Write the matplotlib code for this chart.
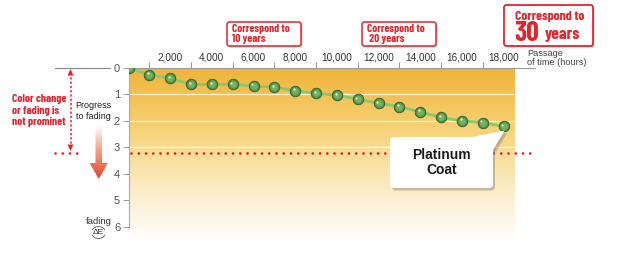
import matplotlib
matplotlib.use("Agg")
import matplotlib.pyplot as plt
import matplotlib.transforms as mtransforms
from matplotlib.patches import FancyBboxPatch, Polygon, Arc
from matplotlib.colors import LinearSegmentedColormap
import numpy as np

# ---- data ----
hours = [0, 1000, 2000, 3000, 4000, 5000, 6000, 7000, 8000, 9000,
         10000, 11000, 12000, 13000, 14000, 15000, 16000, 17000, 18000]
delta_e = [0.0, 0.26, 0.38, 0.62, 0.62, 0.62, 0.68, 0.72, 0.86, 0.96,
           1.03, 1.18, 1.33, 1.46, 1.66, 1.87, 2.0, 2.06, 2.21]
x_tick_values = [2000, 4000, 6000, 8000, 10000, 12000, 14000, 16000, 18000]
x_tick_labels = ["2,000", "4,000", "6,000", "8,000", "10,000", "12,000",
                 "14,000", "16,000", "18,000"]
y_tick_values = [0, 1, 2, 3, 4, 5, 6]
threshold = 3.2

COND = ["Barlow Condensed", "DejaVu Sans"]
SANS = ["Liberation Sans", "DejaVu Sans"]
RED = "#E2252C"

fig = plt.figure(figsize=(6.3, 2.59), dpi=100)
W, H = 630, 259

# main axes: x 0 at px 128.5, 18500 at px 514 ; y 0 at px 68, 6.5 at px 240
ax = fig.add_axes([128.5 / W, (H - 240) / H, (514 - 128.5) / W, (240 - 68) / H])

# background gradient
cmap_bg = LinearSegmentedColormap.from_list(
    "bg", [(0.0, "#F0B43A"), (0.3, "#F6CD6C"), (0.5, "#F9DE98"),
           (0.75, "#FCEFCF"), (1.0, "#FFFFFF")])
grad = np.linspace(0, 1, 256).reshape(-1, 1)
ax.imshow(grad, cmap=cmap_bg, aspect="auto", extent=[0, 18500, 6.5, 0],
          origin="upper", zorder=0)
ax.set_xlim(0, 18500)
ax.set_ylim(6.5, 0)
for yv in [1, 2, 3]:
    ax.axhline(yv, color="white", lw=0.9, alpha=0.8, zorder=1)

# line + sphere markers
ax.plot(hours, delta_e, color="#86C96F", lw=2.0, zorder=3, solid_capstyle="round")
ax.plot(hours, delta_e, ls="none", marker="o", ms=7.6, mfc="#55934A",
        mec="#2F5A28", mew=0.6, zorder=4)
ax.plot(hours, delta_e, ls="none", marker="o", ms=4.8, mfc="#74B262",
        mec="none", zorder=5)
hl = mtransforms.offset_copy(ax.transData, fig=fig, x=-0.9, y=1.1, units="points")
ax.plot(hours, delta_e, ls="none", marker="o", ms=1.6, mfc="#E8F5DE",
        mec="none", zorder=6, transform=hl)

# spines & ticks
for s in ["right", "bottom"]:
    ax.spines[s].set_visible(False)
ax.spines["top"].set_color("#999999")
ax.spines["top"].set_linewidth(0.8)
ax.spines["left"].set_color("#AAAAAA")
ax.spines["left"].set_linewidth(0.8)
ax.spines["left"].set_bounds(0, 6)
ax.xaxis.set_ticks_position("top")
ax.set_xticks(x_tick_values)
ax.set_xticklabels(x_tick_labels, fontsize=7.2, color="#333333", family=SANS)
ax.tick_params(axis="x", which="major", length=0, pad=4)
ax.set_xticks([1000, 3000, 5000, 7000, 9000, 11000, 13000, 15000, 17000], minor=True)
ax.tick_params(axis="x", which="minor", length=4, width=0.7, color="#999999")
ax.set_yticks(y_tick_values)
ax.set_yticklabels([str(v) for v in y_tick_values], fontsize=8, color="#555555",
                   family=SANS)
ax.tick_params(axis="y", length=4, width=0.7, color="#999999", pad=2)

# ---- overlay in pixel coordinates ----
ov = fig.add_axes([0, 0, 1, 1], zorder=10)
ov.set_xlim(0, W)
ov.set_ylim(H, 0)
ov.axis("off")
ov.patch.set_alpha(0)

blend = mtransforms.blended_transform_factory(ov.transData, ax.transData)

# top spine extension and left reference line
ov.plot([514, 535], [0, 0], color="#999999", lw=0.8, transform=blend, clip_on=False)
ov.plot([55, 110], [0, 0], color="#888888", lw=0.8, transform=blend, clip_on=False)

# red dotted threshold line
dot_style = (0, (0.01, 2.6))
ov.plot([131, 534], [threshold, threshold], color=RED, lw=2.0, ls=dot_style,
        dash_capstyle="round", transform=blend, zorder=2)
ov.plot([55, 84], [threshold, threshold], color=RED, lw=2.0, ls=dot_style,
        dash_capstyle="round", transform=blend)

# red dashed double arrow
ov.plot([70.5, 70.5], [73, 147], color=RED, lw=1.1, ls=(0, (1.5, 1.3)))
ov.add_patch(Polygon([[67.5, 75.5], [73.5, 75.5], [70.5, 69]], closed=True,
                     fc=RED, ec="none"))
ov.add_patch(Polygon([[67.5, 144.5], [73.5, 144.5], [70.5, 151]], closed=True,
                     fc=RED, ec="none"))

ov.text(12, 110.5, "Color change\nor fading is\nnot prominet", color=RED,
        fontsize=8.3, fontweight="bold", family=COND, va="center", ha="left",
        linespacing=1.2)
ov.text(93.5, 111, "Progress\nto fading", color="#222222", fontsize=6.5,
        family=SANS, va="center", ha="center", linespacing=1.3)

# big gradient arrow
arrow_pts = [[95.5, 125], [102, 125], [102, 163], [108, 163], [98.75, 179],
             [89.5, 163], [95.5, 163]]
arrow_poly = Polygon(arrow_pts, closed=True, fc="none", ec="none")
ov.add_patch(arrow_poly)
cmap_ar = LinearSegmentedColormap.from_list(
    "ar", [(0, "#FFFFFF"), (0.45, "#F3A58A"), (1.0, "#E5452A")])
im = ov.imshow(grad, cmap=cmap_ar, aspect="auto", extent=[89, 109, 179, 125],
               origin="upper", zorder=3)
im.set_clip_path(arrow_poly)
ov.set_xlim(0, W)
ov.set_ylim(H, 0)

# fading / ΔE label
ov.text(98.5, 221, "fading", fontsize=6.8, color="#333333", family=SANS,
        ha="center", va="center")
ov.text(98.5, 232.5, "ΔE", fontsize=6.0, color="#333333", family=SANS,
        ha="center", va="center")
ov.add_patch(Arc((98.5, 232.5), 14, 12, theta1=200, theta2=340, color="#555555", lw=0.6))
ov.add_patch(Arc((98.5, 232.5), 14, 12, theta1=20, theta2=160, color="#555555", lw=0.6))

# passage of time label
ov.text(527, 58, "Passage\nof time (hours)", fontsize=6.6, color="#444444",
        family=SANS, ha="left", va="center", linespacing=1.0)


def red_box(x0, y0, x1, y1, lw=1.1):
    sh = FancyBboxPatch((x0 + 1.5, y0 + 1.5), x1 - x0, y1 - y0,
                        boxstyle="round,pad=0,rounding_size=2.5",
                        fc="#C9C9C9", ec="none", zorder=4)
    ov.add_patch(sh)
    bx = FancyBboxPatch((x0, y0), x1 - x0, y1 - y0,
                        boxstyle="round,pad=0,rounding_size=2.5",
                        fc="white", ec=RED, lw=lw, zorder=5)
    ov.add_patch(bx)


red_box(227, 22, 301, 46)
ov.text(232, 34, "Correspond to\n10 years", color=RED, fontsize=8.1,
        fontweight="bold", family=COND, ha="left", va="center",
        linespacing=1.05, zorder=6)
red_box(362, 22, 436, 46)
ov.text(367, 34, "Correspond to\n 20 years", color=RED, fontsize=8.1,
        fontweight="bold", family=COND, ha="left", va="center",
        linespacing=1.05, zorder=6)
red_box(504, 5, 593, 46, lw=1.3)
ov.text(515, 16, "Correspond to", color=RED, fontsize=9.8,
        fontweight="bold", family=COND, ha="left", va="center", zorder=6)
ov.text(514, 33.5, "30", color=RED, fontsize=20, fontweight="bold",
        family=COND, ha="left", va="center", zorder=6)
ov.text(545, 35, "years", color=RED, fontsize=12.5, fontweight="bold",
        family=COND, ha="left", va="center", zorder=6)

# Platinum Coat callout
shadow = FancyBboxPatch((392, 139.5), 103, 51, boxstyle="round,pad=0,rounding_size=4",
                        fc="#9A9080", ec="none", alpha=0.55, zorder=4)
ov.add_patch(shadow)
ov.add_patch(Polygon([[472, 139.5], [507, 133], [496, 152]], closed=True,
                     fc="#9A9080", ec="none", alpha=0.55, zorder=4))
ov.add_patch(FancyBboxPatch((390, 137), 103, 51, boxstyle="round,pad=0,rounding_size=4",
                            fc="white", ec="none", zorder=5))
ov.add_patch(Polygon([[470, 137.5], [504.5, 130.5], [493, 150]], closed=True,
                     fc="white", ec="none", zorder=5))
ov.text(441.5, 162.5, "Platinum\nCoat", fontsize=10, fontweight="bold",
        color="#1A1A1A", family=SANS, ha="center", va="center",
        linespacing=1.1, zorder=6)

fig.savefig("out.png", dpi=100)
